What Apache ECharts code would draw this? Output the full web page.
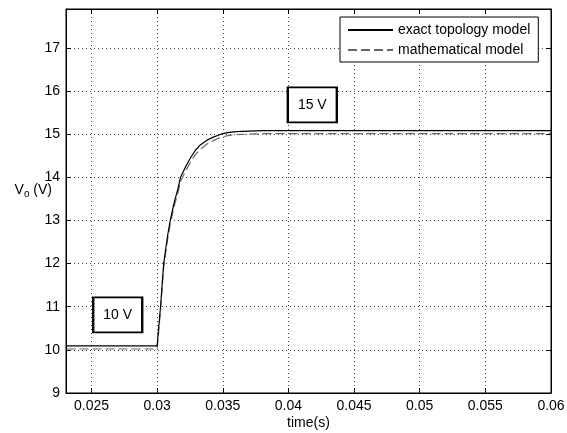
<!DOCTYPE html>
<html>
<head>
<meta charset="utf-8">
<script src="https://cdn.jsdelivr.net/npm/echarts@6/dist/echarts.min.js"></script>
<style>html,body{margin:0;padding:0;background:#fff}#c{width:567px;height:433px}</style>
</head>
<body>
<div id="c"></div>
<script>
// time samples (s)
const tData = [0.0231, 0.0300, 0.03013, 0.03026, 0.0305, 0.0308, 0.0310, 0.0313, 0.0316, 0.03178, 0.0321, 0.0325, 0.0329, 0.03326, 0.0338, 0.03428, 0.0347, 0.0350, 0.0355, 0.0360, 0.0370, 0.0380, 0.0600];
// exact topology model (V)
const vExact = [10.09, 10.09, 10.55, 11.0, 12.0, 12.65, 13.0, 13.42, 13.75, 14.0, 14.2, 14.43, 14.62, 14.74, 14.86, 14.93, 14.98, 15.01, 15.04, 15.06, 15.07, 15.08, 15.08];
// mathematical model (V)
const vMath = [10.02, 10.02, 10.48, 10.93, 11.92, 12.57, 12.92, 13.33, 13.66, 13.9, 14.1, 14.33, 14.52, 14.64, 14.77, 14.85, 14.91, 14.94, 14.97, 14.99, 15.0, 15.01, 15.01];
const seriesNames = ['exact topology model', 'mathematical model'];
const xTicks = [0.025, 0.03, 0.035, 0.04, 0.045, 0.05, 0.055, 0.06];
const yTicks = [9, 10, 11, 12, 13, 14, 15, 16, 17];
const xRange = [0.02306, 0.06];
const yRange = [9, 17.9];
// annotations: [t, V, text]
const notes = [[0.0270, 10.81, '10 V'], [0.04182, 15.68, '15 V']];

const font = 'Liberation Sans, Arial, sans-serif';
const chart = echarts.init(document.getElementById('c'), null, {renderer: 'canvas'});
const gridLine = {show: true, lineStyle: {color: '#444', type: [1, 3], width: 1}};
const tickIn = {show: true, inside: true, length: 5, lineStyle: {color: '#000'}};
chart.setOption({
  backgroundColor: '#fff',
  animation: false,
  grid: {left: 66, right: 16, top: 9, bottom: 40, show: true, borderColor: '#000', borderWidth: 1,
    backgroundColor: '#fff', containLabel: false, outerBoundsMode: 'none'},
  legend: {
    orient: 'vertical', left: 340, top: 17, width: 205,
    backgroundColor: '#fff', borderColor: '#000', borderWidth: 1,
    padding: [6, 8, 5, 7], itemGap: 6, itemWidth: 45, itemHeight: 14,
    itemStyle: {opacity: 0},
    textStyle: {fontFamily: font, fontSize: 14, color: '#000'},
    data: seriesNames
  },
  xAxis: [{
    type: 'value', min: xRange[0], max: xRange[1],
    name: 'time(s)', nameLocation: 'middle', nameGap: 23, nameMoveOverlap: false,
    nameTextStyle: {fontFamily: font, fontSize: 14, color: '#000'},
    axisLine: {show: true, onZero: false, lineStyle: {color: '#000'}},
    axisTick: Object.assign({customValues: xTicks}, tickIn),
    axisLabel: {customValues: xTicks, fontFamily: font, fontSize: 14, color: '#000', margin: 6,
      formatter: v => String(+v.toFixed(4))},
    splitLine: gridLine
  }, {
    type: 'value', position: 'top', min: xRange[0], max: xRange[1],
    axisLine: {show: true, onZero: false, lineStyle: {color: '#000'}},
    axisTick: Object.assign({customValues: xTicks}, tickIn),
    axisLabel: {show: false}, splitLine: {show: false}
  }],
  yAxis: [{
    type: 'value', min: yRange[0], max: yRange[1],
    name: '{a|V}{s|o}{a| (V)}', nameLocation: 'middle', nameGap: 14, nameRotate: 0, nameMoveOverlap: false,
    nameTextStyle: {padding: [0, 0, 22, 0], rich: {
      a: {fontFamily: font, fontSize: 14, color: '#000'},
      s: {fontFamily: font, fontSize: 10, color: '#000', verticalAlign: 'bottom', padding: [8, 0, 0, 0]}
    }},
    axisLine: {show: true, onZero: false, lineStyle: {color: '#000'}},
    axisTick: Object.assign({customValues: yTicks}, tickIn),
    axisLabel: {customValues: yTicks, fontFamily: font, fontSize: 14, color: '#000', margin: 6},
    splitLine: gridLine
  }, {
    type: 'value', position: 'right', min: yRange[0], max: yRange[1],
    axisLine: {show: true, onZero: false, lineStyle: {color: '#000'}},
    axisTick: Object.assign({customValues: yTicks}, tickIn),
    axisLabel: {show: false}, splitLine: {show: false}
  }],
  series: [{
    name: seriesNames[0], type: 'line', symbol: 'none',
    data: tData.map((t, i) => [t, vExact[i]]),
    lineStyle: {color: '#000', width: 1.2},
    itemStyle: {color: '#000'},
    z: 3,
    markPoint: {
      symbol: 'rect', symbolSize: [49, 35], silent: true,
      itemStyle: {color: '#fff', borderColor: '#000', borderWidth: 2},
      label: {show: true, position: 'inside', fontFamily: font, fontSize: 14, color: '#000'},
      data: notes.map(n => ({coord: [n[0], n[1]], value: n[2], label: {formatter: n[2]}}))
    }
  }, {
    name: seriesNames[1], type: 'line', symbol: 'none',
    data: tData.map((t, i) => [t, vMath[i]]),
    lineStyle: {color: '#666', width: 1.2, type: [9, 4]},
    itemStyle: {color: '#666'},
    z: 2
  }]
});
</script>
</body>
</html>
